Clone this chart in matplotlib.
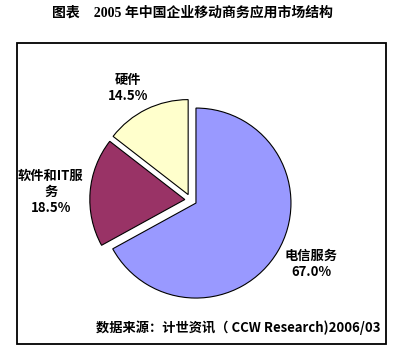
import matplotlib
matplotlib.use("Agg")
import matplotlib.pyplot as plt
from matplotlib.patches import Rectangle

plt.rcParams['font.family'] = ['Noto Sans CJK SC', 'DejaVu Sans']

# Market structure data (clockwise from 12 o'clock)
categories = ['电信服务', '软件和IT服务', '硬件']
shares = [67.0, 18.5, 14.5]
colors = ['#9999FF', '#993366', '#FFFFCC']
label_texts = ['电信服务\n67.0%', '软件和IT服\n务\n18.5%', '硬件\n14.5%']
title = '图表    2005 年中国企业移动商务应用市场结构'
source = '数据来源：计世资讯（ CCW Research)2006/03'

W, H = 396, 356
fig = plt.figure(figsize=(W / 100, H / 100), dpi=100)
ax = fig.add_axes([0, 0, 1, 1])

# Chart frame
ax.add_patch(Rectangle((16.5, 12), 369.5, 301, fill=False, edgecolor='black', linewidth=1.3))

# explode is in data units here (pixel-sized axes)
ax.pie(shares, colors=colors, startangle=90, counterclock=False,
       explode=[6] * len(shares), center=(190.8, 156), radius=95,
       wedgeprops=dict(edgecolor='black', linewidth=0.8), frame=True)
ax.set_xlim(0, W)
ax.set_ylim(0, H)
ax.set_aspect('equal')
ax.axis('off')

label_pos = [(311, 92), (51, 164), (128, 268)]
for txt, (x, y) in zip(label_texts, label_pos):
    ax.text(x, y, txt, ha='center', va='center', fontsize=9.5,
            fontweight='bold', linespacing=1.15)

ax.text(193, 343, title, ha='center', va='center', fontsize=10, fontweight='bold',
        family=['Liberation Serif', 'Noto Sans CJK SC'])
ax.text(380, 28, source, ha='right', va='center', fontsize=9.5, fontweight='bold')

fig.savefig('out.png', dpi=100)
